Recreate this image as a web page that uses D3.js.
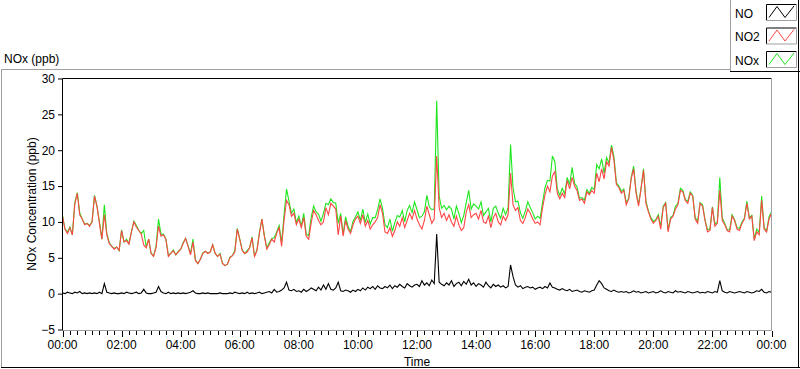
<!DOCTYPE html>
<html><head><meta charset="utf-8">
<script src="https://cdn.jsdelivr.net/npm/d3@7"></script>
<style>
html,body{margin:0;padding:0;background:#fff;}
svg{display:block;font-family:"Liberation Sans","Noto Sans",sans-serif;}
</style></head>
<body><svg id="chart" width="800" height="369"></svg>
<script>
// ---- data (5-minute samples, 00:00 .. 24:00) ----
const seriesNames = ["NO", "NO2", "NOx"];
const seriesColors = ["#000000", "#ff4646", "#1ee61e"];
const xTickLabels = ["00:00","02:00","04:00","06:00","08:00","10:00","12:00","14:00","16:00","18:00","20:00","22:00","00:00"];
const yTickValues = [-5, 0, 5, 10, 15, 20, 25, 30];

const no2 = [
 10.8, 9.0, 8.4, 9.2, 8.2, 12.5, 14.0, 11.0, 10.4, 9.6, 9.8, 9.4,
 10.0, 13.6, 12.2, 9.8, 7.6, 11.0, 8.2, 7.0, 6.6, 6.2, 6.5, 6.0,
 8.8, 7.2, 7.4, 6.9, 8.6, 10.0, 9.3, 8.8, 8.3, 6.8, 6.4, 7.6,
 5.6, 5.2, 6.4, 9.4, 8.0, 8.2, 7.6, 5.2, 5.6, 6.0, 5.4, 5.8,
 6.2, 7.0, 7.7, 6.6, 5.4, 7.2, 4.6, 4.2, 4.8, 5.6, 5.9, 5.6,
 5.8, 6.8, 5.6, 5.2, 5.5, 4.2, 3.9, 4.1, 5.0, 5.3, 5.8, 9.0,
 7.6, 6.0, 5.6, 5.8, 6.4, 7.8, 5.2, 6.0, 8.4, 10.4, 8.0, 6.2,
 6.8, 7.6, 7.2, 8.4, 9.2, 6.6, 10.2, 13.0, 12.4, 10.8, 11.2, 9.6,
 10.4, 9.2, 10.6, 8.0, 7.6, 9.8, 11.6, 11.0, 10.2, 9.6, 10.0, 12.0,
 11.0, 12.6, 12.2, 11.8, 8.2, 10.8, 8.0, 10.2, 9.0, 8.4, 9.6, 10.4,
 10.8, 9.8, 11.0, 9.4, 10.2, 9.0, 9.6, 10.0, 10.6, 12.4, 11.2, 8.6,
 8.4, 9.2, 8.0, 8.8, 10.0, 9.4, 10.6, 9.2, 10.2, 11.2, 10.4, 11.6,
 10.4, 9.6, 9.0, 10.2, 12.2, 11.0, 9.8, 10.4, 19.2, 12.0, 10.6, 11.2,
 10.2, 11.0, 10.0, 9.4, 10.8, 9.6, 8.8, 9.2, 11.4, 12.4, 10.6, 11.0,
 11.2, 10.4, 11.6, 10.0, 9.8, 10.8, 9.2, 10.6, 11.2, 10.0, 9.6, 10.8,
 10.2, 11.0, 16.8, 12.4, 11.6, 12.0, 10.2, 9.8, 10.6, 11.8, 11.2, 10.4,
 9.8, 10.0, 9.6, 12.0, 13.8, 15.0, 14.2, 16.4, 17.0, 14.0, 13.2, 14.0,
 13.4, 15.8, 14.6, 16.2, 15.0, 14.4, 13.0, 13.2, 12.6, 14.2, 13.8, 14.4,
 14.0, 16.8, 15.6, 17.4, 16.0, 18.4, 17.8, 20.4, 18.6, 15.2, 14.8, 14.0,
 14.4, 12.4, 13.2, 16.0, 17.4, 14.0, 12.2, 14.6, 17.2, 12.6, 11.4, 10.4,
 9.8, 10.2, 10.8, 9.0, 12.0, 12.6, 8.6, 10.4, 10.8, 11.8, 12.4, 14.4,
 14.2, 13.0, 12.6, 14.0, 13.6, 10.4, 9.8, 12.6, 12.2, 10.2, 8.6, 8.8,
 12.0, 9.4, 9.8, 14.4, 10.2, 9.6, 8.8, 8.6, 10.8, 10.2, 9.0, 8.8,
 9.8, 10.4, 12.6, 10.4, 10.8, 7.4, 8.6, 8.2, 13.0, 9.0, 8.6, 10.4,
 11.2
];

const no = [
 0.1,0.0,0.2,0.1,0.0,0.2,0.1,0.3,0.0,0.1,0.0,0.1,
 0.0,0.1,0.0,0.2,0.0,1.4,0.2,0.1,0.0,0.1,0.0,0.0,
 0.1,0.0,0.2,0.1,0.0,0.1,0.2,0.0,0.1,0.6,0.1,0.0,
 0.0,0.1,0.2,1.0,0.3,0.1,0.0,0.2,0.0,0.1,0.0,0.1,
 0.0,0.1,0.0,0.1,0.2,0.4,0.1,0.0,0.0,0.1,0.0,0.1,
 0.0,0.0,0.0,0.0,0.1,0.0,0.0,0.0,0.1,0.0,0.2,0.1,
 0.0,0.1,0.0,0.2,0.0,0.1,0.0,0.1,0.2,0.0,0.1,0.2,
 0.3,0.1,0.6,0.2,0.3,0.5,0.8,1.6,0.5,0.4,0.6,0.3,
 0.4,0.2,0.6,0.3,0.5,0.8,0.6,0.4,0.9,0.5,1.2,0.6,
 1.4,0.6,0.5,0.8,1.6,0.4,0.3,0.5,0.4,0.2,0.5,0.3,
 0.6,0.4,0.8,0.5,0.9,0.7,1.0,0.6,1.1,0.8,0.7,1.0,
 0.8,1.2,0.7,1.1,0.9,1.3,1.0,0.8,1.4,1.1,0.9,1.2,
 1.3,1.0,1.8,1.2,1.5,1.1,1.9,1.4,8.3,1.6,1.3,1.1,
 1.5,1.2,1.8,1.0,1.4,1.6,1.1,1.7,1.3,2.0,1.2,1.5,
 1.0,1.4,1.2,0.9,1.6,1.1,0.8,1.3,1.0,1.2,0.9,1.1,
 0.8,1.0,4.0,2.4,1.2,0.9,1.1,0.7,0.9,1.0,0.8,0.9,
 0.6,0.8,0.9,0.7,1.0,0.8,1.5,0.9,0.8,0.6,0.5,0.7,
 0.5,0.4,0.6,0.3,0.4,0.5,0.3,0.2,0.4,0.3,0.2,0.4,
 0.5,1.2,1.8,1.4,0.8,0.6,0.4,0.3,0.5,0.3,0.2,0.3,
 0.2,0.3,0.1,0.2,0.4,0.2,0.3,0.1,0.2,0.3,0.1,0.2,
 0.3,0.1,0.2,0.4,0.2,0.1,0.3,0.2,0.1,0.4,0.2,0.3,
 0.2,0.1,0.3,0.2,0.1,0.2,0.3,0.1,0.2,0.1,0.3,0.2,
 0.1,0.3,0.2,1.8,0.4,0.2,0.1,0.3,0.2,0.1,0.2,0.3,
 0.2,0.1,0.3,0.2,0.1,0.2,0.4,0.3,0.6,0.2,0.1,0.3,
 0.2
];

const nox = [
 10.9, 9.0, 8.6, 9.3, 8.2, 12.7, 14.1, 11.3, 10.4, 9.7, 9.8, 9.5,
 10.0, 13.7, 12.2, 10.0, 7.6, 12.4, 8.4, 7.1, 6.6, 6.3, 6.5, 6.0,
 8.9, 7.2, 7.6, 7.0, 8.6, 10.1, 9.5, 8.8, 8.4, 8.8, 6.5, 7.6,
 5.6, 5.3, 6.6, 10.4, 8.3, 8.3, 7.6, 5.4, 5.6, 6.1, 5.4, 5.9,
 6.2, 7.1, 7.7, 6.7, 5.6, 7.6, 4.7, 4.2, 4.8, 5.7, 5.9, 5.7,
 5.8, 6.8, 5.6, 5.2, 5.6, 4.2, 3.9, 4.1, 5.1, 5.3, 6.0, 9.1,
 7.6, 6.1, 5.6, 6.0, 6.4, 7.9, 5.2, 6.1, 8.6, 10.4, 8.1, 6.4,
 7.1, 7.7, 7.8, 8.6, 9.5, 7.1, 11.0, 14.6, 12.9, 11.2, 11.8, 9.9,
 10.8, 9.4, 11.2, 8.3, 8.1, 10.6, 12.2, 11.4, 11.1, 10.1, 11.2, 12.6,
 12.4, 13.2, 12.7, 12.6, 9.8, 11.2, 8.3, 10.7, 9.4, 8.6, 10.1, 10.7,
 11.4, 10.2, 11.8, 9.9, 11.1, 9.7, 10.6, 10.6, 11.7, 13.2, 11.9, 9.6,
 9.2, 10.4, 8.7, 9.9, 10.9, 10.7, 11.6, 10.0, 11.6, 12.3, 11.3, 12.8,
 11.7, 10.6, 10.8, 11.4, 13.7, 12.1, 11.7, 11.8, 26.9, 13.6, 11.9, 12.3,
 11.7, 12.2, 11.8, 10.4, 12.2, 11.2, 9.9, 10.9, 12.7, 14.4, 11.8, 12.5,
 12.2, 11.8, 12.8, 10.9, 11.4, 11.9, 10.0, 11.9, 12.2, 11.2, 10.5, 11.9,
 11.0, 12.0, 20.8, 14.8, 12.8, 12.9, 11.3, 10.5, 11.5, 12.8, 12.0, 11.3,
 10.4, 10.8, 10.5, 12.7, 14.8, 15.8, 15.7, 19.2, 18.4, 14.6, 13.7, 14.7,
 13.9, 16.2, 15.2, 17.6, 15.4, 14.9, 13.3, 13.4, 13.0, 14.5, 14.0, 14.8,
 14.5, 18.0, 17.4, 18.8, 16.8, 19.0, 18.2, 20.7, 19.1, 15.5, 15.0, 14.3,
 14.6, 12.7, 13.3, 16.2, 17.8, 14.2, 12.5, 14.7, 17.4, 12.9, 11.5, 10.6,
 10.1, 10.3, 11.0, 9.4, 12.2, 12.7, 8.9, 10.6, 10.9, 12.2, 12.6, 14.7,
 14.4, 13.1, 12.9, 14.2, 13.7, 10.6, 10.1, 12.7, 12.4, 10.3, 8.9, 9.0,
 12.1, 9.7, 10.0, 16.2, 10.6, 9.8, 8.9, 8.9, 11.0, 10.3, 9.2, 9.1,
 10.0, 10.5, 12.9, 10.6, 10.9, 7.6, 9.0, 8.5, 13.6, 9.2, 8.7, 10.7,
 11.4
];

// ---- layout ----
const svg = d3.select("#chart");
const plot = {left: 62.5, right: 771.5, top: 78.5, bottom: 329.5};
const x = d3.scaleLinear().domain([0, 24]).range([plot.left, plot.right]);
const y = d3.scaleLinear().domain([-5, 30]).range([plot.bottom, plot.top]);
const hourOf = i => i * 5 / 60;

// outer frame
svg.append("line").attr("x1",1).attr("x2",730).attr("y1",69.5).attr("y2",69.5).attr("stroke","#a0a0a0");
svg.append("line").attr("x1",1.5).attr("x2",1.5).attr("y1",69.5).attr("y2",368).attr("stroke","#a0a0a0");
svg.append("line").attr("x1",1).attr("x2",800).attr("y1",367.5).attr("y2",367.5).attr("stroke","#000");
svg.append("line").attr("x1",798.5).attr("x2",798.5).attr("y1",72).attr("y2",368).attr("stroke","#000");

// title
svg.append("text").attr("x",4).attr("y",63).attr("font-size",12).attr("fill","#000").text("NOx (ppb)");

// plot area frame
svg.append("line").attr("x1",plot.left).attr("x2",plot.right).attr("y1",plot.top).attr("y2",plot.top).attr("stroke","#000");
svg.append("line").attr("x1",plot.right).attr("x2",plot.right).attr("y1",plot.top).attr("y2",plot.bottom+1).attr("stroke","#a0a0a0");
svg.append("line").attr("x1",plot.left).attr("x2",plot.right).attr("y1",plot.bottom+1).attr("y2",plot.bottom+1).attr("stroke","#a0a0a0");
svg.append("line").attr("x1",plot.left).attr("x2",plot.left).attr("y1",plot.top).attr("y2",plot.bottom+1).attr("stroke","#000");

// clip
svg.append("clipPath").attr("id","clip").append("rect")
  .attr("x",plot.left+0.5).attr("y",plot.top+0.5).attr("width",plot.right-plot.left-1).attr("height",plot.bottom-plot.top);

// lines
const g = svg.append("g").attr("clip-path","url(#clip)");
const line = d3.line().x((d,i)=>x(hourOf(i))).y(d=>y(d));
[[nox,2],[no2,1],[no,0]].forEach(([arr,ci])=>{
  g.append("path").datum(arr).attr("d",line).attr("fill","none")
   .attr("stroke",seriesColors[ci]).attr("stroke-width",1.1).attr("stroke-linejoin","miter");
});

// y axis
const yAxis = d3.axisLeft(y).tickValues(yTickValues).tickSize(4).tickSizeOuter(0).tickPadding(3);
const ya = svg.append("g").attr("transform",`translate(${plot.left-0.5},0)`).call(yAxis);
ya.select(".domain").remove();
ya.selectAll("text").attr("font-size",12).attr("font-family","Liberation Sans, sans-serif").attr("fill","#000");

// x axis minor + major ticks
const minorTicks = d3.range(0, 24.001, 0.25);
const xa = svg.append("g").attr("transform",`translate(0,${plot.bottom+1.5})`);
xa.selectAll("line.minor").data(minorTicks).join("line")
  .attr("x1",d=>Math.round(x(d))+0.5).attr("x2",d=>Math.round(x(d))+0.5)
  .attr("y1",0).attr("y2",d=>(Math.abs(d/2-Math.round(d/2))<1e-6)?6:4).attr("stroke","#000");
xa.selectAll("text").data(xTickLabels).join("text")
  .attr("x",(d,i)=>x(i*2)).attr("y",18).attr("text-anchor","middle")
  .attr("font-size",12).attr("fill","#000").text(d=>d);

// axis titles
svg.append("text").attr("x",(plot.left+plot.right)/2).attr("y",366).attr("text-anchor","middle")
  .attr("font-size",12).attr("fill","#000").text("Time");
svg.append("text").attr("transform",`translate(36,${(plot.top+plot.bottom)/2}) rotate(-90)`)
  .attr("text-anchor","middle").attr("font-size",12).attr("fill","#000").text("NOx Concentration (ppb)");

// legend
const lg = svg.append("g");
lg.append("rect").attr("x",730.5).attr("y",0.5).attr("width",68).attr("height",71).attr("fill","#fff").attr("stroke","none");
lg.append("line").attr("x1",730.5).attr("x2",730.5).attr("y1",0).attr("y2",72).attr("stroke","#a0a0a0");
lg.append("line").attr("x1",730).attr("x2",800).attr("y1",71.5).attr("y2",71.5).attr("stroke","#000");
lg.append("line").attr("x1",798.5).attr("x2",798.5).attr("y1",0).attr("y2",72).attr("stroke","#000");
const legY = [4.5, 28, 51.5];
seriesNames.forEach((name,i)=>{
  const by = legY[i];
  lg.append("text").attr("x",735).attr("y",by+13).attr("font-size",12).attr("fill","#000").text(name);
  lg.append("rect").attr("x",766.5).attr("y",by).attr("width",30).attr("height",16).attr("fill","#fff").attr("stroke","none");
  lg.append("path").attr("d",`M766.5,${by+16}V${by}H796.5`).attr("fill","none").attr("stroke","#000");
  lg.append("path").attr("d",`M766.5,${by+16}H796.5V${by}`).attr("fill","none").attr("stroke","#a0a0a0");
  lg.append("path").attr("d",`M769,${by+13}L777,${by+2}L785,${by+13}L794,${by+1.5}`)
    .attr("fill","none").attr("stroke",seriesColors[i]).attr("stroke-width",1);
});
</script>
</body></html>
